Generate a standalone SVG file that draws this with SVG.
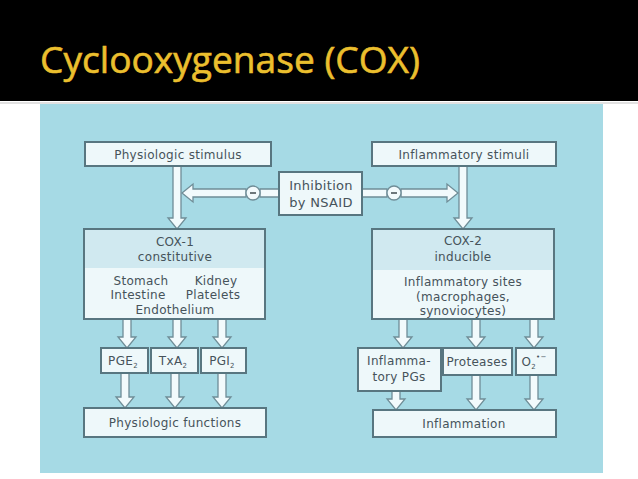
<svg xmlns="http://www.w3.org/2000/svg" width="638" height="479" viewBox="0 0 638 479">
<style>
.box{fill:#eef8fa;stroke:#587680;stroke-width:2}
.boxtop{fill:#d0e9f0;stroke:none}
.arr{fill:#f2fafc;stroke:#6f8d97;stroke-width:1.3;stroke-linejoin:miter}
.t{font-family:"DejaVu Sans","Liberation Sans",sans-serif;font-size:12px;letter-spacing:0.3px;fill:#46535a;text-anchor:middle}
.big{font-size:13px}
.sub{font-size:7px}
</style>
<rect x="0" y="0" width="638" height="479" fill="#ffffff"/>
<rect x="0" y="0" width="638" height="101" fill="#000000"/>
<rect x="0" y="102.5" width="638" height="1" fill="#c4c4c4"/>
<text x="40" y="73" font-family="'Open Sans','Noto Sans',sans-serif" font-size="37" fill="#ebbf2e" stroke="#ebbf2e" stroke-width="0.6" textLength="380" lengthAdjust="spacingAndGlyphs">Cyclooxygenase (COX)</text>
<rect x="40" y="104" width="563" height="369" fill="#a6dae5"/>

<g id="connectors">
  <polygon class="arr" points="173,166 181,166 181,218 186,218 177,229 168,218 173,218"/>
  <polygon class="arr" points="459,166 467,166 467,218 472,218 463,229 454,218 459,218"/>
  <polygon class="arr" points="246,189 193,189 193,184 182,193 193,202 193,197 246,197"/>
  <polygon class="arr" points="260,189 279,189 279,197 260,197"/>
  <circle class="arr" cx="253" cy="193" r="7"/>
  <line x1="250" y1="193" x2="256" y2="193" stroke="#3f4b50" stroke-width="1.5"/>
  <polygon class="arr" points="362,189 387,189 387,197 362,197"/>
  <polygon class="arr" points="401,189 447,189 447,184 458,193 447,202 447,197 401,197"/>
  <circle class="arr" cx="394" cy="193" r="7"/>
  <line x1="391" y1="193" x2="397" y2="193" stroke="#3f4b50" stroke-width="1.5"/>
  <polygon class="arr" points="123,319 131,319 131,337 136,337 127,348 118,337 123,337"/>
  <polygon class="arr" points="173,319 181,319 181,337 186,337 177,348 168,337 173,337"/>
  <polygon class="arr" points="218,319 226,319 226,337 231,337 222,348 213,337 218,337"/>
  <polygon class="arr" points="121,373 129,373 129,397 134,397 125,408 116,397 121,397"/>
  <polygon class="arr" points="171,373 179,373 179,397 184,397 175,408 166,397 171,397"/>
  <polygon class="arr" points="218,373 226,373 226,397 231,397 222,408 213,397 218,397"/>
  <polygon class="arr" points="399,319 407,319 407,337 412,337 403,348 394,337 399,337"/>
  <polygon class="arr" points="472,319 480,319 480,337 485,337 476,348 467,337 472,337"/>
  <polygon class="arr" points="530,319 538,319 538,337 543,337 534,348 525,337 530,337"/>
  <polygon class="arr" points="392,391 400,391 400,399 405,399 396,410 387,399 392,399"/>
  <polygon class="arr" points="472,375 480,375 480,399 485,399 476,410 467,399 472,399"/>
  <polygon class="arr" points="530,375 538,375 538,399 543,399 534,410 525,399 530,399"/>
</g>

<g id="physiologic-stimulus">
  <rect class="box" x="85" y="142" width="186" height="24"/>
  <text class="t" x="178" y="159">Physiologic stimulus</text>
</g>
<g id="inflammatory-stimuli">
  <rect class="box" x="372" y="142" width="184" height="24"/>
  <text class="t" x="464" y="159">Inflammatory stimuli</text>
</g>
<g id="inhibition">
  <rect class="box" x="279" y="172" width="83" height="43"/>
  <text class="t big" x="321" y="190">Inhibition</text>
  <text class="t big" x="321" y="207">by NSAID</text>
</g>
<g id="cox1">
  <rect class="box" x="84" y="229" width="181" height="90"/>
  <rect class="boxtop" x="85" y="230" width="179" height="38"/>
  <text class="t" x="175" y="246">COX-1</text>
  <text class="t" x="175" y="261">constitutive</text>
  <text class="t" x="141" y="285">Stomach</text>
  <text class="t" x="216" y="285">Kidney</text>
  <text class="t" x="138" y="299">Intestine</text>
  <text class="t" x="213" y="299">Platelets</text>
  <text class="t" x="175" y="314">Endothelium</text>
</g>
<g id="cox2">
  <rect class="box" x="372" y="229" width="182" height="90"/>
  <rect class="boxtop" x="373" y="230" width="180" height="40"/>
  <text class="t" x="463" y="245">COX-2</text>
  <text class="t" x="463" y="261">inducible</text>
  <text class="t" x="463" y="286">Inflammatory sites</text>
  <text class="t" x="463" y="301">(macrophages,</text>
  <text class="t" x="463" y="315">synoviocytes)</text>
</g>
<g id="pge2">
  <rect class="box" x="101" y="348" width="47" height="25"/>
  <text class="t" x="123" y="365">PGE<tspan class="sub" dy="3">2</tspan></text>
</g>
<g id="txa2">
  <rect class="box" x="151" y="348" width="47" height="25"/>
  <text class="t" x="173" y="365">TxA<tspan class="sub" dy="3">2</tspan></text>
</g>
<g id="pgi2">
  <rect class="box" x="201" y="348" width="45" height="25"/>
  <text class="t" x="222" y="365">PGI<tspan class="sub" dy="3">2</tspan></text>
</g>
<g id="physiologic-functions">
  <rect class="box" x="84" y="408" width="182" height="29"/>
  <text class="t" x="175" y="427">Physiologic functions</text>
</g>
<g id="inflammatory-pgs">
  <rect class="box" x="358" y="348" width="83" height="43"/>
  <text class="t" x="399" y="365">Inflamma-</text>
  <text class="t" x="399" y="381">tory PGs</text>
</g>
<g id="proteases">
  <rect class="box" x="443" y="348" width="69" height="27"/>
  <text class="t" x="477" y="366">Proteases</text>
</g>
<g id="o2">
  <rect class="box" x="516" y="348" width="40" height="27"/>
  <text class="t" x="534" y="366">O<tspan class="sub" dy="3">2</tspan><tspan class="sub" dy="-10">•−</tspan></text>
</g>
<g id="inflammation">
  <rect class="box" x="373" y="410" width="183" height="27"/>
  <text class="t" x="464" y="428">Inflammation</text>
</g>
</svg>
